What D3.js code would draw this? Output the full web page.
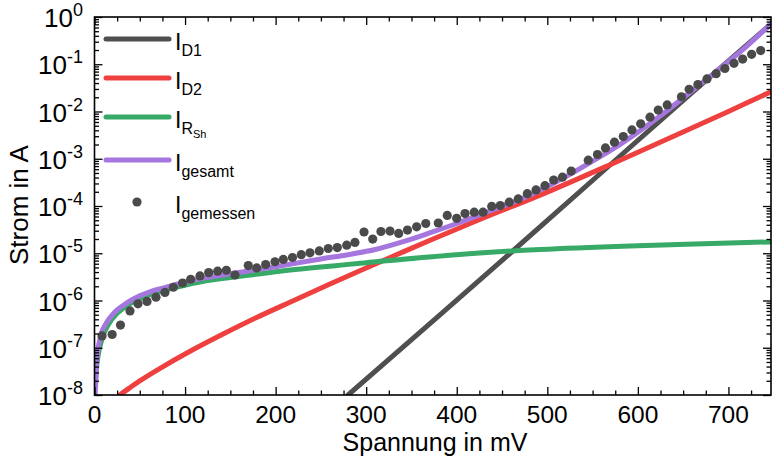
<!DOCTYPE html>
<html>
<head>
<meta charset="utf-8">
<script src="https://cdn.jsdelivr.net/npm/d3@7"></script>
<style>
  html, body { margin: 0; padding: 0; background: #fff; }
  svg { display: block; font-family: "Liberation Sans", Arial, sans-serif; }
</style>
</head>
<body>
<div id="chart"></div>
<script>
// Diode I-V curve, log current axis (log10 of A)

const measV = [8.3, 19.5, 28.7, 39.2, 48.0, 58.0, 67.9, 77.8, 87.0, 97.2,
  106.2, 116.5, 126.1, 136.0, 145.6, 155.1, 169.8, 179.1, 189.0, 199.3,
  208.5, 218.6, 228.3, 237.9, 248.2, 258.1, 268.1, 278.5, 287.6, 297.6,
  307.2, 316.3, 326.3, 335.9, 345.6, 355.7, 365.8, 379.6, 389.5, 399.9,
  409.1, 419.3, 429.0, 438.6, 448.1, 458.0, 467.9, 477.9, 487.5, 497.4,
  507.0, 516.7, 526.4, 545.2, 555.4, 564.2, 574.1, 583.9, 593.5, 603.1,
  613.4, 622.5, 632.4, 648.1, 656.6, 666.3, 676.3, 686.4, 696.1, 706.1,
  715.7, 725.6, 735.6];
const measLog = [-6.75, -6.72, -6.52, -6.22, -6.07, -6.02, -5.93, -5.83, -5.72, -5.63,
  -5.55, -5.48, -5.41, -5.38, -5.36, -5.46, -5.26, -5.31, -5.24, -5.18,
  -5.13, -5.09, -5.03, -4.99, -4.95, -4.90, -4.88, -4.83, -4.77, -4.55,
  -4.70, -4.54, -4.53, -4.58, -4.51, -4.44, -4.37, -4.36, -4.20, -4.26,
  -4.16, -4.13, -4.13, -4.01, -3.99, -3.92, -3.85, -3.74, -3.66, -3.57,
  -3.45, -3.39, -3.26, -3.03, -2.91, -2.77, -2.65, -2.53, -2.39, -2.26,
  -2.12, -1.97, -1.86, -1.69, -1.53, -1.43, -1.31, -1.20, -1.09, -0.98,
  -0.89, -0.79, -0.71];

const d1V = [280, 459, 577, 657, 747];
const d1Log = [-8, -5, -3.0, -1.65, -0.15];

const d2V = [28, 38, 50, 72, 105, 142, 179, 220, 260, 317, 370, 430, 492, 570, 640, 700, 747];
const d2Log = [-8, -7.86, -7.70, -7.44, -7.08, -6.71, -6.36, -6.0, -5.65, -5.17, -4.73, -4.25, -3.77, -3.12, -2.52, -2.0, -1.58];

const rshV = [1.2, 3, 7, 14, 25, 40, 62, 88, 125, 172, 205, 300, 392, 492, 600, 747];
const rshLog = [-7.8, -7.3, -6.9, -6.55, -6.27, -6.06, -5.87, -5.73, -5.58, -5.46, -5.38, -5.2, -5.04, -4.92, -4.84, -4.76];

const totV = [0.8, 1.5, 2.5, 4, 6, 9, 13.5, 19, 25, 32, 40, 50, 62, 75, 88, 105, 125, 145, 165,
  195, 220, 250, 280, 310, 340, 370, 400, 440, 470, 500, 525, 550, 580, 610, 635, 660, 690, 720, 747];
const totLog = [-8, -7.6, -7.25, -7.0, -6.82, -6.62, -6.46, -6.32, -6.2, -6.1, -6.0, -5.9, -5.81, -5.74, -5.67, -5.59, -5.51, -5.45, -5.39,
  -5.3, -5.22, -5.12, -5.03, -4.92, -4.76, -4.57, -4.37, -4.08, -3.86, -3.59, -3.33, -3.05, -2.7, -2.3, -1.94, -1.56, -1.1, -0.62, -0.14];

const xTicks = [0, 100, 200, 300, 400, 500, 600, 700];
const yExps = [-8, -7, -6, -5, -4, -3, -2, -1, 0];

const series = [
  { name: 'D1', V: d1V, L: d1Log, color: '#4f4f4f' },
  { name: 'D2', V: d2V, L: d2Log, color: '#ef4040' },
  { name: 'RSh', V: rshV, L: rshLog, color: '#38aa68' },
  { name: 'gesamt', V: totV, L: totLog, color: '#a676df' }
];

function drawChart() {
    const W = 772, H = 459;
    const left = 94.5, right = 771, top = 17, bottom = 395;

    const svg = d3.select('#chart').append('svg')
        .attr('width', W).attr('height', H);

    const x = d3.scaleLinear().domain([0, 747]).range([left, right]);
    const y = d3.scaleLog().domain([1e-8, 1]).range([bottom, top]);

    svg.append('clipPath').attr('id', 'plot-clip')
        .append('rect')
        .attr('x', left).attr('y', top)
        .attr('width', right - left).attr('height', bottom - top);

    const plot = svg.append('g').attr('clip-path', 'url(#plot-clip)');

    const line = d3.line()
        .x(d => x(d[0]))
        .y(d => y(Math.pow(10, d[1])))
        .curve(d3.curveCatmullRom.alpha(0.5));

    series.forEach(s => {
        plot.append('path')
            .datum(s.V.map((v, i) => [v, s.L[i]]))
            .attr('d', line)
            .attr('fill', 'none')
            .attr('stroke', s.color)
            .attr('stroke-width', 5)
            .attr('stroke-linecap', 'round');
    });

    // measured points
    plot.selectAll('circle.meas')
        .data(measV.map((v, i) => [v, measLog[i]]))
        .join('circle')
        .attr('class', 'meas')
        .attr('cx', d => x(d[0]))
        .attr('cy', d => y(Math.pow(10, d[1])))
        .attr('r', 4.6)
        .attr('fill', '#4a4a4a');

    // Axes: ticks point inward on all four sides
    const xMinor = d3.range(0, 747, 25).filter(v => v % 100 !== 0);
    const yMinor = [];
    yExps.slice(0, -1).forEach(e => {
        for (let k = 2; k <= 9; k++) yMinor.push(k * Math.pow(10, e));
    });
    const yMajor = yExps.map(e => Math.pow(10, e));

    const axisStyle = g => {
        g.select('.domain').remove();
        g.selectAll('line').attr('stroke', '#000').attr('stroke-width', 1.3);
    };

    svg.append('g').attr('transform', `translate(0,${bottom})`)
        .call(d3.axisBottom(x).tickValues(xTicks).tickSize(-8).tickFormat('')).call(axisStyle);
    svg.append('g').attr('transform', `translate(0,${bottom})`)
        .call(d3.axisBottom(x).tickValues(xMinor).tickSize(-4.5).tickFormat('')).call(axisStyle);
    svg.append('g').attr('transform', `translate(0,${top})`)
        .call(d3.axisTop(x).tickValues(xTicks).tickSize(-8).tickFormat('')).call(axisStyle);
    svg.append('g').attr('transform', `translate(0,${top})`)
        .call(d3.axisTop(x).tickValues(xMinor).tickSize(-4.5).tickFormat('')).call(axisStyle);

    svg.append('g').attr('transform', `translate(${left},0)`)
        .call(d3.axisLeft(y).tickValues(yMajor).tickSize(-8).tickFormat('')).call(axisStyle);
    svg.append('g').attr('transform', `translate(${left},0)`)
        .call(d3.axisLeft(y).tickValues(yMinor).tickSize(-4.5).tickFormat('')).call(axisStyle);
    svg.append('g').attr('transform', `translate(${right},0)`)
        .call(d3.axisRight(y).tickValues(yMajor).tickSize(-8).tickFormat('')).call(axisStyle);
    svg.append('g').attr('transform', `translate(${right},0)`)
        .call(d3.axisRight(y).tickValues(yMinor).tickSize(-4.5).tickFormat('')).call(axisStyle);

    // frame
    svg.append('rect')
        .attr('x', left).attr('y', top)
        .attr('width', right - left).attr('height', bottom - top)
        .attr('fill', 'none').attr('stroke', '#000').attr('stroke-width', 1.6);

    // x tick labels
    svg.selectAll('text.xl')
        .data(xTicks)
        .join('text')
        .attr('class', 'xl')
        .attr('x', d => x(d))
        .attr('y', bottom + 28)
        .attr('text-anchor', 'middle')
        .attr('font-size', '24.5px')
        .text(d => d);

    // y tick labels with superscript exponent
    const yl = svg.selectAll('text.yl')
        .data(yExps)
        .join('text')
        .attr('class', 'yl')
        .attr('x', 83)
        .attr('y', d => y(Math.pow(10, d)) + 10)
        .attr('text-anchor', 'end')
        .attr('font-size', '26px');
    yl.append('tspan').text('10');
    yl.append('tspan').attr('dy', -11).attr('font-size', '18px').text(d => d);

    // axis titles
    svg.append('text')
        .attr('x', 435).attr('y', 451)
        .attr('text-anchor', 'middle')
        .attr('font-size', '25px')
        .text('Spannung in mV');
    svg.append('text')
        .attr('transform', 'translate(28,205) rotate(-90)')
        .attr('text-anchor', 'middle')
        .attr('font-size', '26px')
        .text('Strom in A');

    // legend
    const legY = [39, 78, 117, 160];
    const lx0 = 106, lx1 = 169, tx = 175;
    series.forEach((s, i) => {
        svg.append('line')
            .attr('x1', lx0).attr('x2', lx1)
            .attr('y1', legY[i]).attr('y2', legY[i])
            .attr('stroke', s.color).attr('stroke-width', 5)
            .attr('stroke-linecap', 'round');
    });
    const legText = (yy, build) => {
        const t = svg.append('text')
            .attr('x', tx).attr('y', yy + 11)
            .attr('font-size', '23px');
        t.append('tspan').text('I');
        build(t);
    };
    legText(legY[0], t => t.append('tspan').attr('dy', 6).attr('font-size', '16px').text('D1'));
    legText(legY[1], t => t.append('tspan').attr('dy', 6).attr('font-size', '16px').text('D2'));
    legText(legY[2], t => {
        t.append('tspan').attr('dy', 6).attr('font-size', '16px').text('R');
        t.append('tspan').attr('dy', 4).attr('font-size', '11px').text('Sh');
    });
    legText(legY[3], t => t.append('tspan').attr('dy', 6).attr('font-size', '16px').text('gesamt'));

    svg.append('circle')
        .attr('cx', 137).attr('cy', 202).attr('r', 4.6)
        .attr('fill', '#4a4a4a');
    legText(202, t => t.append('tspan').attr('dy', 6).attr('font-size', '16px').text('gemessen'));
}

if (document.readyState === 'loading') {
    document.addEventListener('DOMContentLoaded', drawChart);
} else {
    drawChart();
}
</script>
</body>
</html>
